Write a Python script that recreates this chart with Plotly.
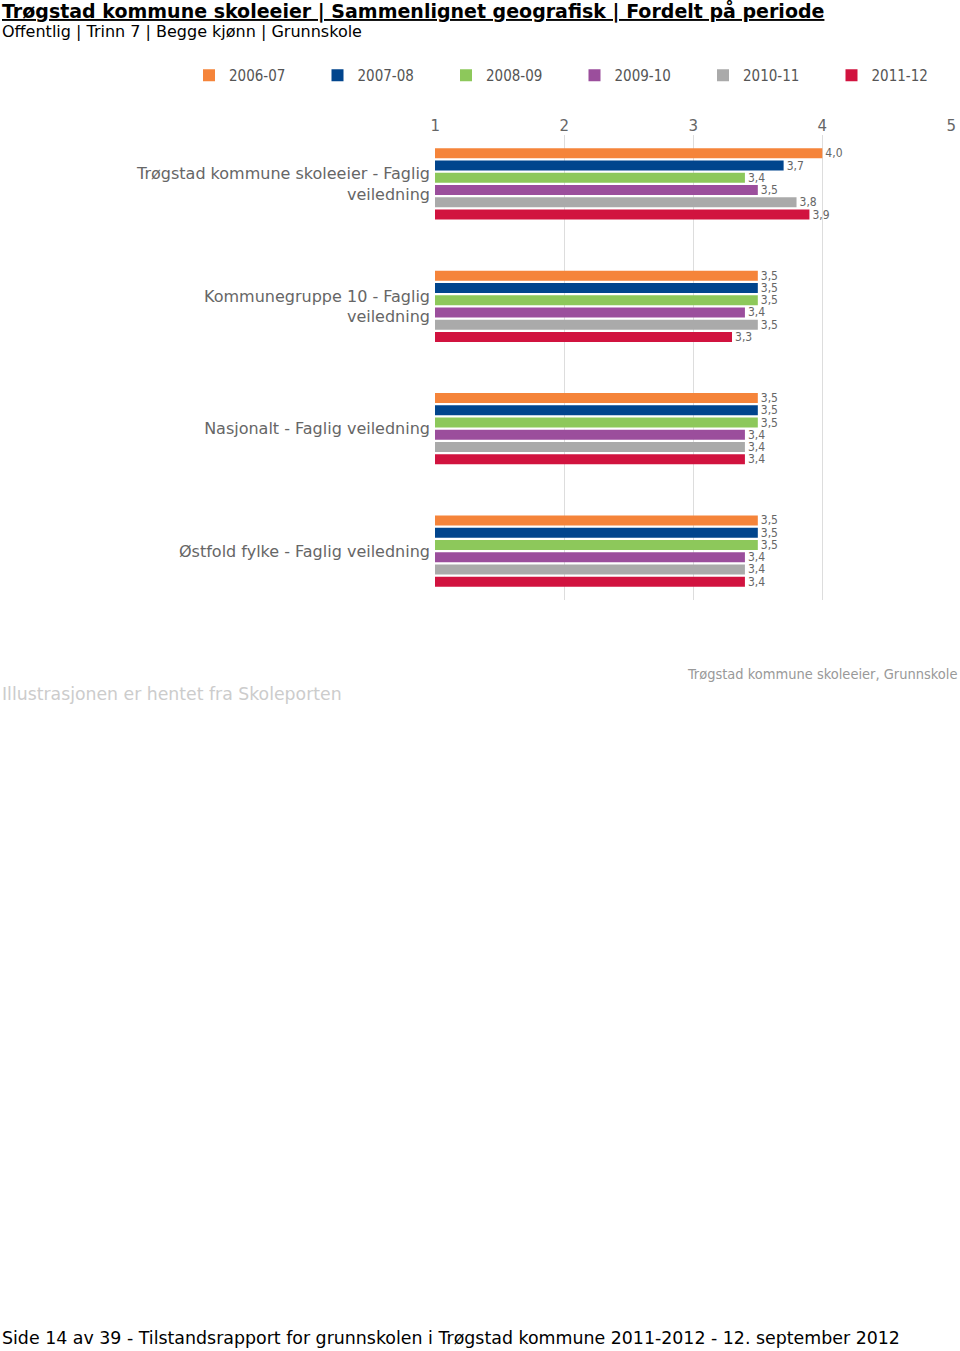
import plotly.graph_objects as go

W, H = 960, 1351
ML, MR, MT, MB = 435, 8, 135, 751

categories = [
    "Trøgstad kommune skoleeier - Faglig<br>veiledning",
    "Kommunegruppe 10 - Faglig<br>veiledning",
    "Nasjonalt - Faglig veiledning",
    "Østfold fylke - Faglig veiledning",
]
periods = ["2006-07", "2007-08", "2008-09", "2009-10", "2010-11", "2011-12"]
v_2006_07 = [4.0, 3.5, 3.5, 3.5]
v_2007_08 = [3.7, 3.5, 3.5, 3.5]
v_2008_09 = [3.4, 3.5, 3.5, 3.5]
v_2009_10 = [3.5, 3.4, 3.4, 3.4]
v_2010_11 = [3.8, 3.5, 3.4, 3.4]
v_2011_12 = [3.9, 3.3, 3.4, 3.4]
series = [v_2006_07, v_2007_08, v_2008_09, v_2009_10, v_2010_11, v_2011_12]
colors = ["#F5843A", "#01458D", "#8DC85B", "#9B4E9C", "#AAAAAA", "#D1133F"]
x_ticks = [1, 2, 3, 4, 5]

FONT = "Verdana, 'DejaVu Sans', sans-serif"
COND = "'DejaVu Sans Condensed', 'Liberation Sans Narrow', 'Arial Narrow', 'DejaVu Sans', sans-serif"

fig = go.Figure()
legend_names = []
for i, (name, vals, col) in enumerate(zip(periods, series, colors)):
    lg = "legend" if i == 0 else f"legend{i + 1}"
    legend_names.append(lg)
    fig.add_trace(go.Bar(
        y=categories, x=vals, name=name, orientation="h",
        marker=dict(color=col, line=dict(width=0)),
        text=[f"{v:.1f}".replace(".", ",") for v in vals],
        textposition="outside", constraintext="none",
        textfont=dict(family=COND, size=12, color="#666666"),
        cliponaxis=False, legend=lg,
    ))

pw = W - ML - MR
ph = H - MT - MB


def px_x(p):
    return (p - ML) / pw


def px_y(p):
    return (H - MB - p) / ph


fig.update_layout(
    width=W, height=H,
    margin=dict(l=ML, r=MR, t=MT, b=MB, pad=0, autoexpand=False),
    paper_bgcolor="white", plot_bgcolor="white",
    barmode="group", bargap=0.4, bargroupgap=0.18,
    font=dict(family=FONT, color="#666666"),
    showlegend=True,
    xaxis=dict(
        side="top", range=[0.998, 5.005], tickvals=x_ticks,
        ticktext=[str(t) for t in x_ticks],
        showgrid=True, gridcolor="#DDDDDD", gridwidth=1,
        zeroline=False, showline=False, ticks="",
        tickfont=dict(family=FONT, size=15, color="#666666"),
    ),
    yaxis=dict(
        type="category", range=[3.4, -0.4],
        showgrid=False, zeroline=False, showline=False, ticks="",
        ticklabelstandoff=4,
        tickfont=dict(family=FONT, size=16, color="#666666"),
    ),
)

legend_left_px = 189
legend_pitch_px = 128.5
for i, lg in enumerate(legend_names):
    fig.update_layout({lg: dict(
        orientation="h", xref="container", yref="container",
        x=(legend_left_px + i * legend_pitch_px) / W, xanchor="left",
        y=1 - 59 / H, yanchor="top",
        font=dict(family=COND, size=15, color="#555555"),
        itemwidth=30, bgcolor="rgba(0,0,0,0)",
    )})

ann = [
    dict(text="<b><u>Trøgstad kommune skoleeier | Sammenlignet geografisk | Fordelt på periode</u></b>",
         x=px_x(0), y=px_y(11), font=dict(family=FONT, size=19, color="#000000"),
         xanchor="left", yanchor="middle"),
    dict(text="Offentlig | Trinn 7 | Begge kjønn | Grunnskole",
         x=px_x(0), y=px_y(31), font=dict(family=FONT, size=16, color="#000000"),
         xanchor="left", yanchor="middle"),
    dict(text="Trøgstad kommune skoleeier, Grunnskole",
         x=px_x(959), y=px_y(674), font=dict(family=COND, size=14.5, color="#999999"),
         xanchor="right", yanchor="middle"),
    dict(text="Illustrasjonen er hentet fra Skoleporten",
         x=px_x(0), y=px_y(694), font=dict(family=FONT, size=17.3, color="#CCCCCC"),
         xanchor="left", yanchor="middle"),
    dict(text="Side 14 av 39 - Tilstandsrapport for grunnskolen i Trøgstad kommune 2011-2012 - 12. september 2012",
         x=px_x(0), y=px_y(1338), font=dict(family=FONT, size=17.4, color="#000000"),
         xanchor="left", yanchor="middle"),
]
for a in ann:
    a.update(xref="paper", yref="paper", showarrow=False)
fig.update_layout(annotations=ann)

fig.write_html("out.html")
